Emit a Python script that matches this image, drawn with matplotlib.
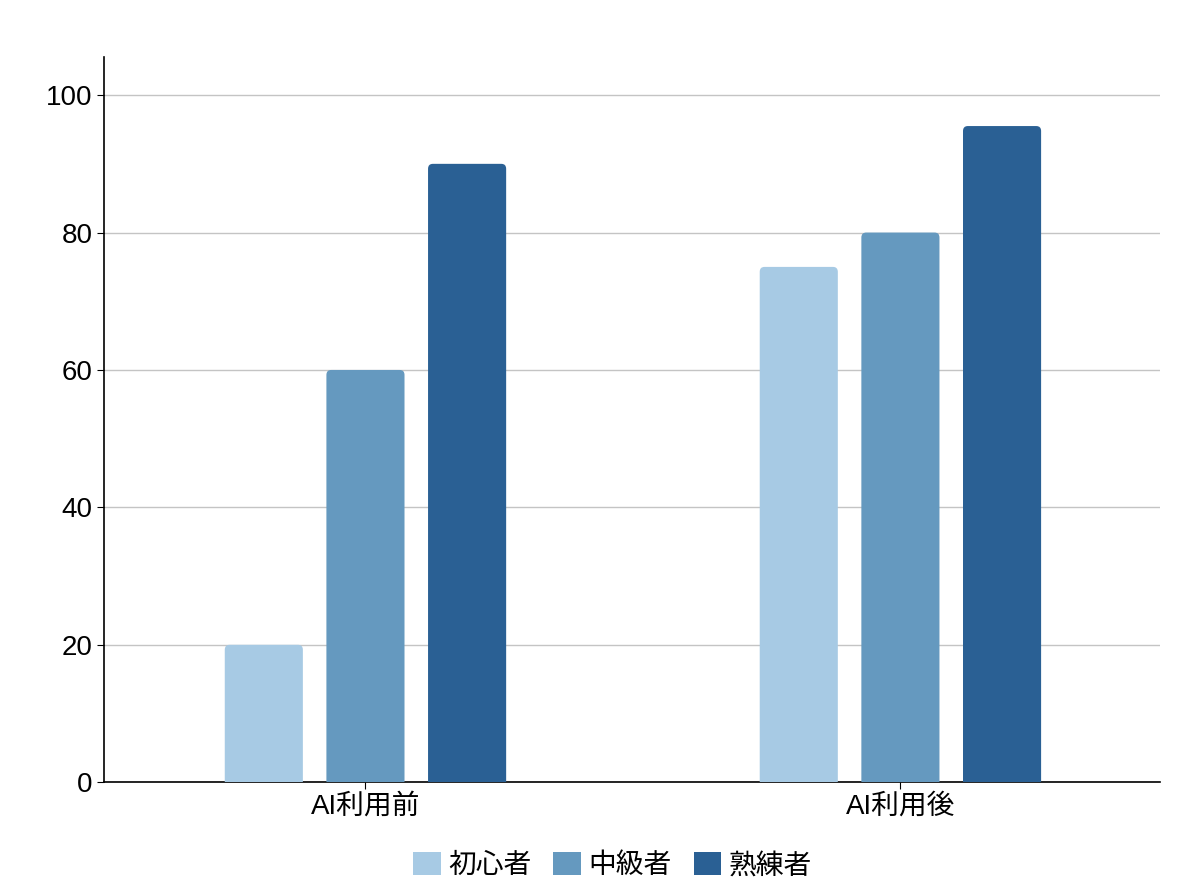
import matplotlib
matplotlib.use("Agg")
import matplotlib.pyplot as plt
from matplotlib.patches import FancyBboxPatch, Patch
import numpy as np

plt.rcParams['font.family'] = ['Liberation Sans', 'Noto Sans CJK JP']

categories = ["AI利用前", "AI利用後"]
series_names = ["初心者", "中級者", "熟練者"]
beginner = [20, 75]
intermediate = [60, 80]
expert = [90, 95.5]
colors = ["#a7cae4", "#6599bf", "#2a6094"]

fig = plt.figure(figsize=(12, 8.96), dpi=100)
ax = fig.add_axes([0.087, 0.127, 0.88, 0.809])

x = np.arange(len(categories))
width = 0.146
offset = 0.19
ymax = 105.5
for i, (vals, name) in enumerate(zip([beginner, intermediate, expert], series_names)):
    bars = ax.bar(x + (i - 1) * offset, vals, width, color=colors[i], zorder=3)
    # swap the plain rectangles for slightly rounded ones (bottom gets clipped at y=0)
    for b in bars:
        b.set_visible(False)
        px, py = b.get_x(), b.get_y()
        w, h = b.get_width(), b.get_height()
        ax.add_patch(FancyBboxPatch((px, py - 2), w, h + 2,
                                    boxstyle="round,pad=0,rounding_size=0.009",
                                    mutation_aspect=80, facecolor=colors[i],
                                    edgecolor='none', zorder=3))

ax.set_xlim(-0.488, 1.486)
ax.set_ylim(0, ymax)
ax.set_yticks([0, 20, 40, 60, 80, 100])
ax.set_xticks(x)
ax.set_xticklabels(categories)
ax.tick_params(axis='both', labelsize=20, length=5, color='black')
ax.grid(axis='y', color='#c4c4c4', linewidth=1, zorder=0)
for s in ['top', 'right']:
    ax.spines[s].set_visible(False)
for s in ['left', 'bottom']:
    ax.spines[s].set_color('black')
    ax.spines[s].set_linewidth(1.2)

handles = [Patch(facecolor=c, edgecolor='none', label=n) for c, n in zip(colors, series_names)]
ax.legend(handles=handles, loc='upper center', bbox_to_anchor=(0.481, -0.062), ncol=3, frameon=False,
          fontsize=20, handlelength=1.0, handleheight=0.9, handletextpad=0.25, columnspacing=0.8)

fig.savefig("out.png", dpi=100)
